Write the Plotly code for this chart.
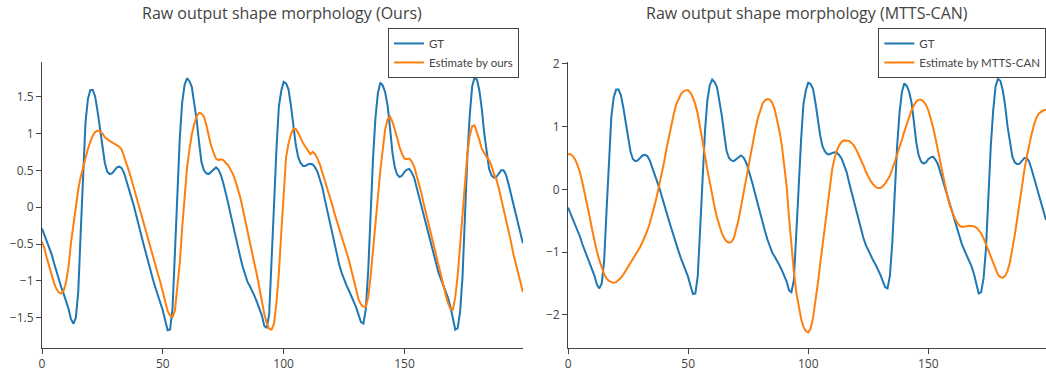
import plotly.graph_objects as go
from plotly.subplots import make_subplots

frames = list(range(200))

gt = [-0.29, -0.38, -0.46, -0.55, -0.64, -0.76, -0.88, -0.99, -1.09, -1.18,
      -1.28, -1.38, -1.52, -1.58, -1.50, -1.15, -0.35, 0.48, 1.15, 1.47,
      1.59, 1.59, 1.50, 1.30, 1.06, 0.80, 0.60, 0.48, 0.45, 0.46,
      0.50, 0.54, 0.55, 0.53, 0.46, 0.36, 0.25, 0.13, 0.02, -0.10,
      -0.24, -0.37, -0.50, -0.63, -0.76, -0.88, -0.99, -1.10, -1.20, -1.30,
      -1.40, -1.54, -1.67, -1.66, -1.38, -0.62, 0.22, 0.93, 1.42, 1.66,
      1.75, 1.71, 1.63, 1.42, 1.18, 0.88, 0.61, 0.50, 0.46, 0.45,
      0.48, 0.52, 0.54, 0.51, 0.44, 0.33, 0.21, 0.06, -0.09, -0.24,
      -0.40, -0.54, -0.67, -0.80, -0.91, -1.01, -1.07, -1.13, -1.21, -1.29,
      -1.37, -1.47, -1.61, -1.64, -1.45, -0.78, 0.02, 0.78, 1.36, 1.58,
      1.70, 1.68, 1.60, 1.38, 1.10, 0.85, 0.68, 0.60, 0.56, 0.56,
      0.58, 0.59, 0.58, 0.54, 0.48, 0.38, 0.27, 0.11, -0.04, -0.20,
      -0.35, -0.51, -0.66, -0.78, -0.89, -0.98, -1.06, -1.13, -1.20, -1.27,
      -1.36, -1.46, -1.56, -1.58, -1.38, -0.85, -0.04, 0.68, 1.22, 1.55,
      1.69, 1.65, 1.56, 1.38, 1.08, 0.74, 0.54, 0.44, 0.41, 0.43,
      0.48, 0.51, 0.52, 0.47, 0.40, 0.27, 0.14, 0.01, -0.12, -0.25,
      -0.38, -0.52, -0.66, -0.77, -0.88, -0.97, -1.05, -1.13, -1.23, -1.35,
      -1.50, -1.66, -1.64, -1.42, -0.95, -0.13, 0.68, 1.25, 1.64, 1.76,
      1.73, 1.58, 1.33, 1.00, 0.72, 0.52, 0.43, 0.40, 0.41, 0.45,
      0.50, 0.50, 0.44, 0.32, 0.18, 0.05, -0.10, -0.25, -0.37, -0.49]

ours = [-0.47, -0.56, -0.69, -0.81, -0.93, -1.03, -1.11, -1.16, -1.17, -1.13,
        -1.01, -0.80, -0.48, -0.22, 0.00, 0.24, 0.41, 0.55, 0.69, 0.79,
        0.89, 0.97, 1.02, 1.04, 1.03, 1.00, 0.95, 0.92, 0.90, 0.88,
        0.86, 0.84, 0.82, 0.78, 0.69, 0.59, 0.49, 0.38, 0.26, 0.14,
        0.02, -0.09, -0.20, -0.32, -0.44, -0.57, -0.68, -0.80, -0.91, -1.02,
        -1.15, -1.29, -1.41, -1.47, -1.49, -1.40, -1.12, -0.76, -0.28, 0.17,
        0.53, 0.78, 0.99, 1.13, 1.23, 1.28, 1.27, 1.23, 1.12, 0.97,
        0.83, 0.74, 0.66, 0.64, 0.65, 0.64, 0.61, 0.57, 0.51, 0.45,
        0.36, 0.26, 0.14, -0.01, -0.17, -0.35, -0.51, -0.65, -0.78, -0.93,
        -1.12, -1.28, -1.45, -1.57, -1.65, -1.66, -1.58, -1.30, -0.90, -0.35,
        0.18, 0.68, 0.86, 0.99, 1.06, 1.06, 1.01, 0.93, 0.87, 0.82,
        0.76, 0.72, 0.75, 0.72, 0.66, 0.58, 0.47, 0.37, 0.26, 0.15,
        0.04, -0.08, -0.18, -0.29, -0.39, -0.50, -0.61, -0.72, -0.85, -0.99,
        -1.13, -1.25, -1.32, -1.35, -1.35, -1.22, -0.93, -0.60, -0.23, 0.14,
        0.50, 0.79, 1.06, 1.19, 1.23, 1.16, 1.06, 0.94, 0.81, 0.72,
        0.66, 0.65, 0.66, 0.62, 0.55, 0.44, 0.32, 0.19, 0.04, -0.10,
        -0.24, -0.38, -0.52, -0.65, -0.78, -0.92, -1.05, -1.18, -1.30, -1.38,
        -1.39, -1.22, -0.93, -0.52, -0.04, 0.40, 0.72, 0.97, 1.10, 1.11,
        1.02, 0.91, 0.79, 0.73, 0.68, 0.64, 0.56, 0.45, 0.38, 0.26,
        0.12, -0.02, -0.15, -0.31, -0.46, -0.63, -0.76, -0.90, -1.03, -1.15]

mtts = [0.56, 0.56, 0.53, 0.47, 0.38, 0.26, 0.10, -0.07, -0.25, -0.44,
        -0.64, -0.83, -0.99, -1.13, -1.25, -1.35, -1.42, -1.46, -1.48, -1.49,
        -1.48, -1.45, -1.41, -1.36, -1.30, -1.24, -1.18, -1.12, -1.06, -0.99,
        -0.92, -0.84, -0.76, -0.66, -0.54, -0.41, -0.26, -0.10, 0.07, 0.25,
        0.44, 0.65, 0.85, 1.04, 1.20, 1.35, 1.45, 1.52, 1.56, 1.58,
        1.58, 1.54, 1.46, 1.35, 1.20, 1.00, 0.77, 0.54, 0.31, 0.10,
        -0.09, -0.28, -0.45, -0.59, -0.70, -0.78, -0.83, -0.85, -0.84, -0.78,
        -0.65, -0.48, -0.28, -0.07, 0.16, 0.38, 0.58, 0.78, 0.96, 1.13,
        1.27, 1.37, 1.42, 1.44, 1.43, 1.38, 1.28, 1.12, 0.93, 0.70,
        0.40, 0.05, -0.45, -0.90, -1.31, -1.64, -1.88, -2.06, -2.19, -2.26,
        -2.28, -2.22, -2.05, -1.80, -1.50, -1.18, -0.86, -0.54, -0.23, 0.10,
        0.33, 0.50, 0.63, 0.71, 0.76, 0.78, 0.78, 0.77, 0.74, 0.70,
        0.63, 0.55, 0.47, 0.38, 0.28, 0.20, 0.13, 0.08, 0.04, 0.02,
        0.02, 0.05, 0.09, 0.15, 0.22, 0.32, 0.43, 0.55, 0.67, 0.79,
        0.92, 1.04, 1.16, 1.26, 1.34, 1.40, 1.43, 1.43, 1.40, 1.35,
        1.26, 1.14, 0.99, 0.81, 0.62, 0.41, 0.22, 0.04, -0.12, -0.26,
        -0.37, -0.46, -0.53, -0.58, -0.60, -0.60, -0.59, -0.58, -0.58, -0.59,
        -0.61, -0.65, -0.70, -0.78, -0.88, -0.98, -1.09, -1.19, -1.29, -1.36,
        -1.40, -1.41, -1.38, -1.30, -1.16, -0.97, -0.73, -0.47, -0.19, 0.06,
        0.31, 0.52, 0.71, 0.88, 1.03, 1.14, 1.21, 1.24, 1.26, 1.27]

titles = ["Raw output shape morphology (Ours)", "Raw output shape morphology (MTTS-CAN)"]
names_left = ["GT", "Estimate by ours"]
names_right = ["GT", "Estimate by MTTS-CAN"]

BLUE = "#1f77b4"
ORANGE = "#ff7f0e"
AX = "#444444"
FONT = "Open Sans"

fig = make_subplots(rows=1, cols=2)

fig.add_trace(go.Scatter(x=frames, y=gt, mode="lines", name=names_left[0],
                         line=dict(color=BLUE, width=2), legend="legend"), row=1, col=1)
fig.add_trace(go.Scatter(x=frames, y=ours, mode="lines", name=names_left[1],
                         line=dict(color=ORANGE, width=2), legend="legend"), row=1, col=1)
fig.add_trace(go.Scatter(x=frames, y=gt, mode="lines", name=names_right[0],
                         line=dict(color=BLUE, width=2), legend="legend2"), row=1, col=2)
fig.add_trace(go.Scatter(x=frames, y=mtts, mode="lines", name=names_right[1],
                         line=dict(color=ORANGE, width=2), legend="legend2"), row=1, col=2)

axis_style = dict(showline=True, linecolor=AX, linewidth=1, ticks="outside", ticklen=5,
                  tickcolor=AX, showgrid=False, zeroline=False,
                  tickfont=dict(family=FONT, size=12, color=AX))

fig.update_xaxes(**axis_style, range=[0, 199], dtick=50, tick0=0)
fig.update_layout(
    xaxis=dict(domain=[0, 0.479]),
    xaxis2=dict(domain=[0.524, 1.0]),
    yaxis=dict(range=[-1.91, 1.97], dtick=0.5, **axis_style),
    yaxis2=dict(range=[-2.53, 2.03], dtick=1, **axis_style),
)

legend_style = dict(bgcolor="white", bordercolor=AX, borderwidth=1,
                    font=dict(family="Lato", size=11.5, color=AX),
                    xanchor="left", yanchor="top", yref="paper")
fig.update_layout(
    legend=dict(x=0.3446, y=1.119, **legend_style),
    legend2=dict(x=0.833, y=1.119, **legend_style),
)

for xc, t in zip([0.2395, 0.762], titles):
    fig.add_annotation(text=t, x=xc, y=1.171, xref="paper", yref="paper",
                       xanchor="center", yanchor="middle", showarrow=False,
                       font=dict(family=FONT, size=16, color=AX))

fig.update_layout(width=1046, height=374,
                  margin=dict(l=42, r=0, t=62, b=26, autoexpand=False),
                  paper_bgcolor="white", plot_bgcolor="white", showlegend=True)

fig.write_html("out.html")
